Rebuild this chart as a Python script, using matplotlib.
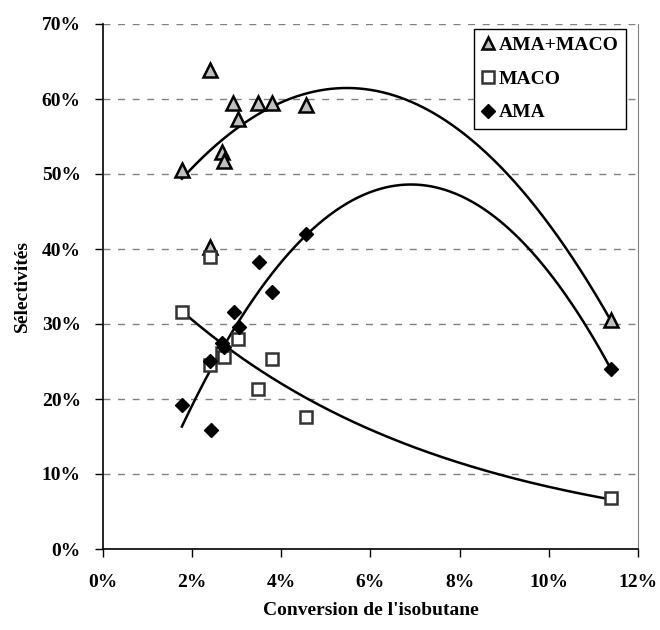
import numpy as np
import matplotlib
matplotlib.use("Agg")
import matplotlib.pyplot as plt
from matplotlib.ticker import FuncFormatter

# Conversion (%) and selectivities (%)
x_tri = [1.77, 2.40, 2.40, 2.67, 2.71, 2.91, 3.03, 3.48, 3.79, 4.55, 11.39]
y_tri = [50.5, 63.9, 40.3, 53.0, 51.7, 59.5, 57.3, 59.5, 59.5, 59.2, 30.5]

x_sq = [1.77, 2.40, 2.40, 2.67, 2.71, 3.03, 3.48, 3.79, 4.55, 11.39]
y_sq = [31.6, 38.9, 24.5, 26.2, 25.6, 28.0, 21.3, 25.3, 17.6, 6.8]

x_dia = [1.77, 2.42, 2.40, 2.67, 2.71, 2.94, 3.05, 3.50, 3.79, 4.55, 11.39]
y_dia = [19.2, 15.9, 25.1, 27.5, 27.0, 31.6, 29.6, 38.3, 34.3, 42.0, 24.0]

x_ticks = [0, 2, 4, 6, 8, 10, 12]
y_ticks = [0, 10, 20, 30, 40, 50, 60, 70]

plt.rcParams['font.family'] = ['Liberation Serif', 'DejaVu Serif']
plt.rcParams['font.weight'] = 'bold'

fig = plt.figure(figsize=(6.6, 6.3), dpi=100)
ax = fig.add_axes([103/660, 81/630, 535/660, 525/630])

# trendlines (polynomial order 2 for AMA+MACO and AMA, exponential for MACO)
xs = np.linspace(min(x_tri), max(x_tri), 300)
p_tri = np.polyfit(x_tri, y_tri, 2)
p_dia = np.polyfit(x_dia, y_dia, 2)
b, a = np.polyfit(x_sq, np.log(y_sq), 1)
ax.plot(xs, np.polyval(p_tri, xs), color='black', lw=1.8, zorder=2)
ax.plot(xs, np.polyval(p_dia, xs), color='black', lw=1.8, zorder=2)
ax.plot(xs, np.exp(a + b*xs), color='black', lw=1.8, zorder=2)

ax.plot(x_tri, y_tri, linestyle='none', marker='^', ms=10, mfc='#c0c0c0',
        mec='black', mew=1.8, label='AMA+MACO', zorder=3)
ax.plot(x_sq, y_sq, linestyle='none', marker='s', ms=9, mfc='white',
        mec='#333333', mew=1.8, label='MACO', zorder=3)
ax.plot(x_dia, y_dia, linestyle='none', marker='D', ms=7.5, mfc='black',
        mec='black', mew=1, label='AMA', zorder=4)

ax.set_xlim(0, 12)
ax.set_ylim(0, 70)
ax.set_xticks(x_ticks)
ax.set_yticks(y_ticks)
ax.xaxis.set_major_formatter(FuncFormatter(lambda v, p: f"{v:.0f}%"))
ax.yaxis.set_major_formatter(FuncFormatter(lambda v, p: f"{v:.0f}%"))
ax.tick_params(axis='both', labelsize=14, length=6, width=1, direction='out')
ax.tick_params(axis='x', pad=12)
ax.tick_params(axis='y', pad=10)
for lab in ax.get_xticklabels() + ax.get_yticklabels():
    lab.set_fontweight('bold')

ax.yaxis.grid(True, color='#808080', linestyle=(0, (5, 5.5)), lw=1)
ax.set_axisbelow(True)
ax.spines['top'].set_visible(False)
ax.spines['right'].set_color('#808080')
ax.spines['left'].set_color('black')
ax.spines['bottom'].set_color('black')
ax.spines['left'].set_linewidth(1.2)
ax.spines['bottom'].set_linewidth(1.2)

ax.set_xlabel("Conversion de l'isobutane", fontsize=14, fontweight='bold', labelpad=8)
ax.set_ylabel("Sélectivités", fontsize=14, fontweight='bold', labelpad=8)

leg = ax.legend(loc='upper right', bbox_to_anchor=(0.978, 0.99), borderaxespad=0,
                fancybox=False, edgecolor='black', framealpha=1,
                prop={'family': 'Liberation Serif', 'weight': 'bold', 'size': 14},
                handlelength=0.7, handletextpad=0.2, labelspacing=0.82,
                borderpad=0.38, markerscale=0.9)
leg.get_frame().set_linewidth(1)

fig.savefig('out.png', dpi=100)
